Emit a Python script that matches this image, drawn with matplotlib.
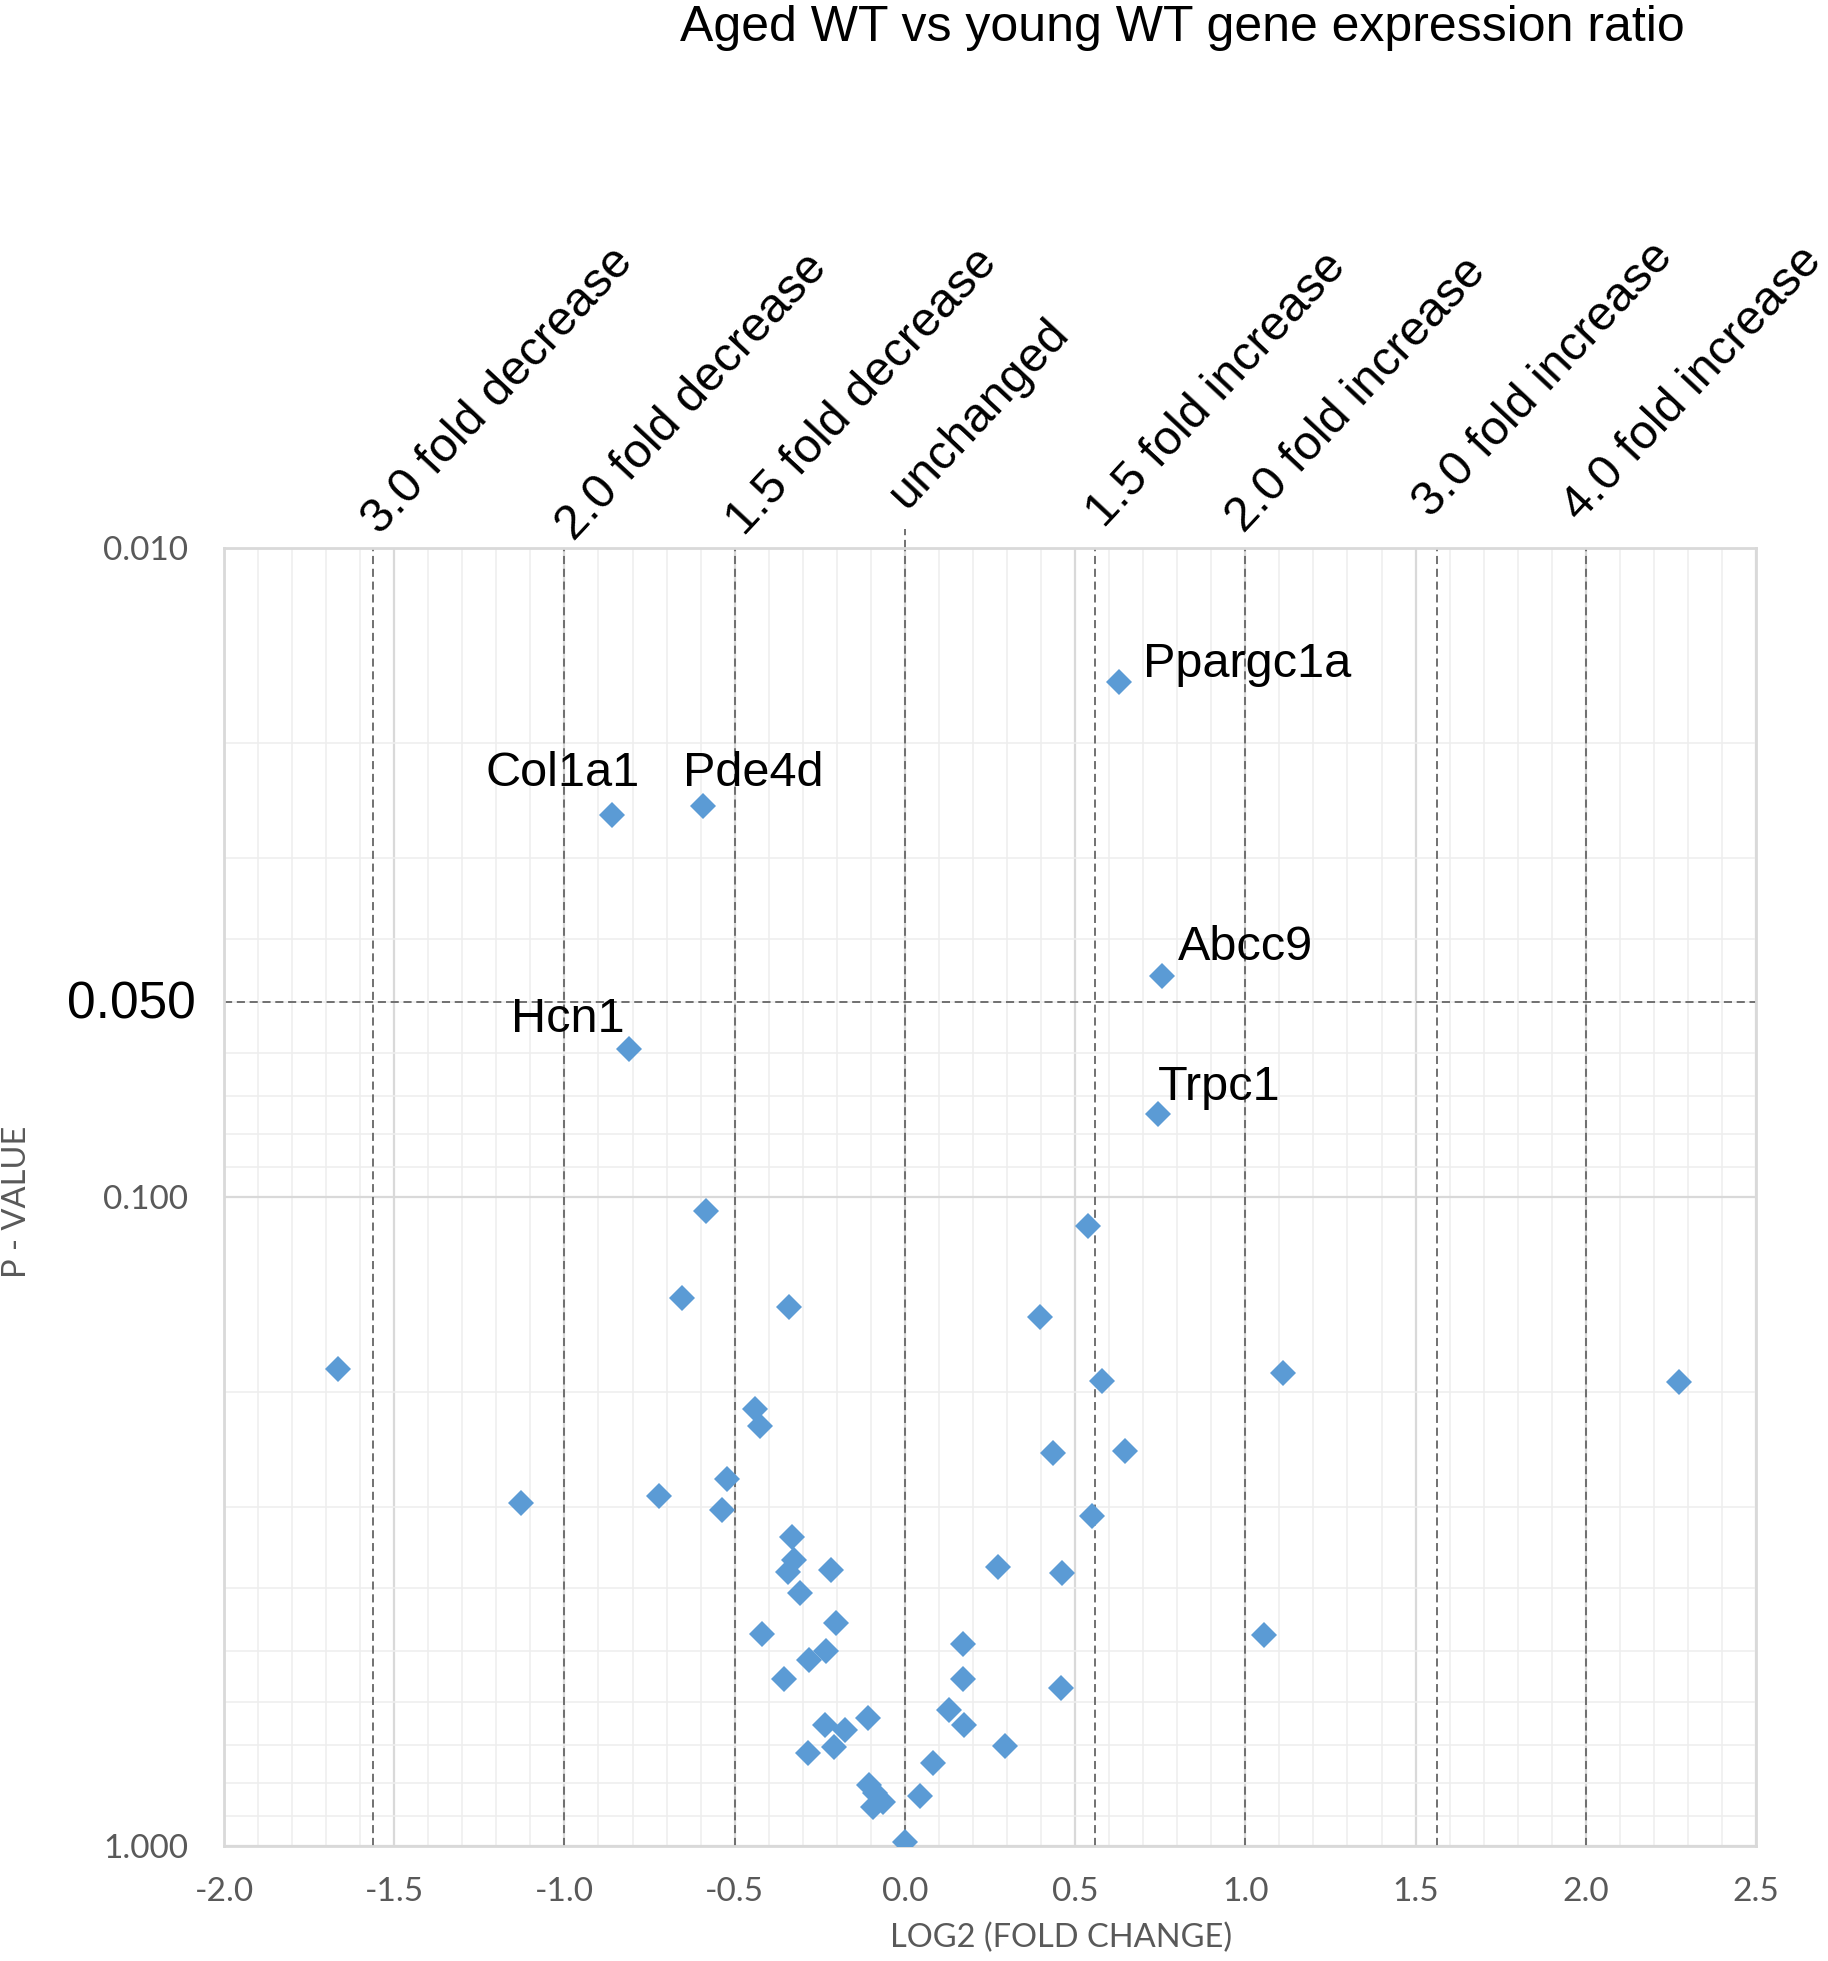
import matplotlib
matplotlib.use("Agg")
import matplotlib.pyplot as plt
from matplotlib.ticker import MultipleLocator, LogLocator, FixedLocator, NullFormatter
import matplotlib.transforms as mtransforms

# ---------------- data ----------------
log2_fc = [
    # labelled genes
    0.628, -0.860, -0.593, 0.756, -0.810, 0.744,
    # negative side
    -0.583, -0.655, -0.340, -1.664, -0.441, -0.427, -0.523, -1.129, -0.722, -0.537,
    -0.331, -0.326, -0.343, -0.216, -0.307, -0.202, -0.420, -0.233, -0.282, -0.354,
    -0.109, -0.236, -0.175, -0.207, -0.285, -0.105, -0.088, -0.065, -0.095, 0.000,
    # positive side
    0.538, 0.396, 1.112, 0.579, 2.273, 0.435, 0.647, 0.550, 0.273, 0.461,
    1.054, 0.172, 0.171, 0.459, 0.130, 0.174, 0.294, 0.083, 0.045,
]
p_values = [
    0.0161, 0.0258, 0.0250, 0.0456, 0.0591, 0.0745,
    0.105, 0.143, 0.148, 0.184, 0.212, 0.225, 0.272, 0.296, 0.289, 0.304,
    0.334, 0.362, 0.378, 0.375, 0.408, 0.454, 0.471, 0.500, 0.517, 0.553,
    0.635, 0.651, 0.663, 0.704, 0.718, 0.805, 0.830, 0.855, 0.870, 0.985,
    0.111, 0.153, 0.187, 0.192, 0.193, 0.248, 0.246, 0.310, 0.372, 0.380,
    0.473, 0.488, 0.553, 0.571, 0.617, 0.651, 0.701, 0.745, 0.838,
]

gene_names = ["Ppargc1a", "Col1a1", "Pde4d", "Abcc9", "Hcn1", "Trpc1"]
gene_label_x = [1.006, -1.006, -0.446, 1.000, -0.991, 0.922]
gene_label_p = [0.0158, 0.0233, 0.0233, 0.0431, 0.0557, 0.0709]

fold_labels = ["3.0 fold decrease", "2.0 fold decrease", "1.5 fold decrease", "unchanged",
               "1.5 fold increase", "2.0 fold increase", "3.0 fold increase", "4.0 fold increase"]
fold_x = [-1.562, -1.0, -0.5, 0.0, 0.558, 1.0, 1.563, 2.0]
fold_offsets = [(5.2, 8.8), (6.7, 4.5), (6.7, 8), (1, 27),
                (6.7, 14), (-1, 10), (-4, 21), (-4.5, 18)]

p_threshold = 0.05
x_ticks = [-2.0, -1.5, -1.0, -0.5, 0.0, 0.5, 1.0, 1.5, 2.0, 2.5]
y_ticks = [0.01, 0.1, 1.0]

title = "Aged WT vs young WT gene expression ratio"
xlabel = "LOG2 (FOLD CHANGE)"
ylabel = "P - VALUE"

# ---------------- figure ----------------
W, H = 1828, 1961
fig = plt.figure(figsize=(W / 100, H / 100), dpi=100)
ax = fig.add_axes([224 / W, 1 - 1846 / H, (1756 - 224) / W, (1846 - 548) / H])

ARIAL = ["Liberation Sans", "DejaVu Sans"]
TICKF = ["Lato", "DejaVu Sans"]
GREY = "#595959"
BLUE = "#5B9BD5"

ax.set_xlim(-2.0, 2.5)
ax.set_yscale("log")
ax.set_ylim(1.0, 0.01)

ax.xaxis.set_major_locator(FixedLocator(x_ticks))
ax.xaxis.set_minor_locator(MultipleLocator(0.1))
ax.yaxis.set_major_locator(FixedLocator(y_ticks))
ax.yaxis.set_minor_locator(LogLocator(base=10, subs=range(2, 10)))
ax.yaxis.set_minor_formatter(NullFormatter())
ax.set_xticklabels([f"{v:.1f}" for v in x_ticks])
ax.set_yticklabels([f"{v:.3f}" for v in y_ticks])

ax.grid(which="major", color="#d9d9d9", lw=1.6, zorder=0)
ax.grid(which="minor", color="#eeeeee", lw=1.1, zorder=0)
ax.set_axisbelow(True)
for s in ax.spines.values():
    s.set_color("#d9d9d9")
    s.set_linewidth(2.0)

ax.tick_params(which="both", length=0)
ax.tick_params(axis="x", pad=22, labelsize=24, labelcolor=GREY)
ax.tick_params(axis="y", pad=26, labelsize=24, labelcolor=GREY)
for lab in ax.get_xticklabels() + ax.get_yticklabels():
    lab.set_family(TICKF)

# dashed reference lines
dash = (0, (4.5, 2.6))
for xv in fold_x:
    ax.axvline(xv, color="#666666", lw=1.3, ls=dash, zorder=2)
ax.axhline(p_threshold, color="#666666", lw=1.3, ls=dash, zorder=2)
trans = mtransforms.blended_transform_factory(ax.transData, ax.transAxes)
ax.plot([0, 0], [1.0, 1.015], transform=trans, color="#666666", lw=1.3,
        ls=dash, clip_on=False, zorder=2)

# 0.050 label
ax.annotate("0.050", xy=(0, p_threshold),
            xycoords=mtransforms.blended_transform_factory(ax.transAxes, ax.transData),
            xytext=(-20, -2.5), textcoords="offset points",
            ha="right", va="center", fontsize=37, family=ARIAL, color="black",
            annotation_clip=False)

# points
ax.plot(log2_fc, p_values, ls="none", marker="D", ms=13.5, color=BLUE, mew=0, zorder=3)

# gene labels
for name, gx, gp in zip(gene_names, gene_label_x, gene_label_p):
    ax.text(gx, gp, name, ha="center", va="baseline", fontsize=35, family=ARIAL, color="black", zorder=4)

# fold labels
for lab, xv, (dx, dy) in zip(fold_labels, fold_x, fold_offsets):
    ax.annotate(lab, xy=(xv, 1.0), xycoords=trans, xytext=(dx, dy), textcoords="offset points",
                rotation=47, rotation_mode="anchor", ha="left", va="baseline",
                fontsize=35, family=ARIAL, color="black", annotation_clip=False)

# titles
fig.text(1182 / W, 1 - 41 / H, title, ha="center", va="baseline", fontsize=36, family=ARIAL, color="black")
fig.text(1061 / W, 1 - 1938 / H, xlabel, ha="center", va="center", fontsize=23.5, family=TICKF, color=GREY)
fig.text(17.5 / W, 1 - 1202 / H, ylabel, ha="center", va="center", rotation=90, fontsize=23.5,
         family=TICKF, color=GREY)

fig.savefig("out.png", dpi=100, facecolor="white")
